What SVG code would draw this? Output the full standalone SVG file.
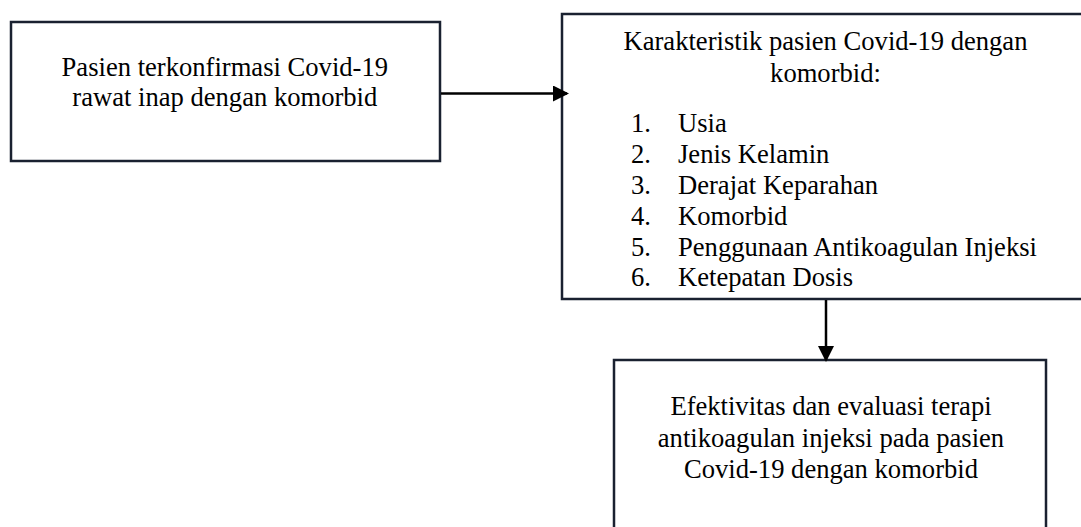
<svg xmlns="http://www.w3.org/2000/svg" width="1081" height="527" viewBox="0 0 1081 527">
<defs>
<style>
.box{fill:#ffffff;stroke:#1a2130;stroke-width:2.5}
.t{font-family:"Liberation Serif","Times New Roman",serif;font-size:26.6px;fill:#000}
.c{text-anchor:middle}
.line{stroke:#000;stroke-width:2.5;fill:none}
</style>
<marker id="ah" markerWidth="16" markerHeight="16" viewBox="0 0 16 16" refX="14" refY="8" orient="auto" markerUnits="userSpaceOnUse">
<path d="M0,0 L16,8 L0,16 Z" fill="#000"/>
</marker>
</defs>
<rect width="1081" height="527" fill="#fff"/>
<g id="node-pasien">
<rect class="box" x="11" y="22" width="429" height="139"/>
<text class="t c" x="224.8" y="76">Pasien terkonfirmasi Covid-19</text>
<text class="t c" x="224.8" y="106">rawat inap dengan komorbid</text>
</g>
<g id="node-karakteristik">
<rect class="box" x="562" y="14" width="530" height="285"/>
<text class="t c" x="825.5" y="50">Karakteristik pasien Covid-19 dengan</text>
<text class="t c" x="825.5" y="82">komorbid:</text>
<text class="t" x="631" y="132">1.</text><text class="t" x="678" y="132">Usia</text>
<text class="t" x="631" y="163">2.</text><text class="t" x="678" y="163">Jenis Kelamin</text>
<text class="t" x="631" y="194">3.</text><text class="t" x="678" y="194">Derajat Keparahan</text>
<text class="t" x="631" y="225">4.</text><text class="t" x="678" y="225">Komorbid</text>
<text class="t" x="631" y="255.5">5.</text><text class="t" x="678" y="255.5">Penggunaan Antikoagulan Injeksi</text>
<text class="t" x="631" y="286">6.</text><text class="t" x="678" y="286">Ketepatan Dosis</text>
</g>
<g id="node-efektivitas">
<rect class="box" x="614" y="360" width="432" height="200"/>
<text class="t c" x="831" y="415">Efektivitas dan evaluasi terapi</text>
<text class="t c" x="831" y="447">antikoagulan injeksi pada pasien</text>
<text class="t c" x="831" y="478">Covid-19 dengan komorbid</text>
</g>
<g id="connectors">
<line class="line" x1="441" y1="93.5" x2="567" y2="93.5" marker-end="url(#ah)"/>
<line class="line" x1="826" y1="300" x2="826" y2="360" marker-end="url(#ah)"/>
</g>
</svg>
